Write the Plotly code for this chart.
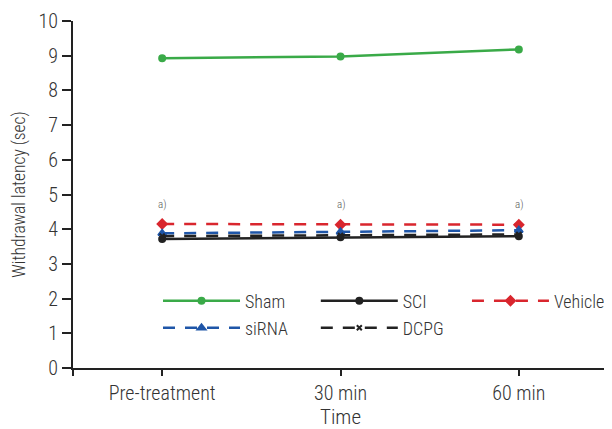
import plotly.graph_objects as go

categories = ["Pre-treatment", "30 min", "60 min"]
x_pos = [0, 1, 2]
sham = [8.93, 8.98, 9.18]
sci = [3.72, 3.77, 3.80]
vehicle = [4.15, 4.13, 4.13]
sirna = [3.88, 3.92, 3.97]
dcpg = [3.80, 3.82, 3.85]
annot_y = [4.72, 4.72, 4.72]
y_ticks = list(range(0, 11))

FONT = "Liberation Sans Narrow, Roboto Condensed, Arial Narrow, sans-serif"
TXT = "#333333"
W = 300

fig = go.Figure()

series = [
    ("Sham", sham, "#3aaa48", "solid", "circle", 6, "legend"),
    ("SCI", sci, "#222222", "solid", "circle", 6, "legend2"),
    ("Vehicle", vehicle, "#d9262e", "12px,10px", "diamond", 7, "legend3"),
    ("siRNA", sirna, "#1f56a8", "12px,10px", "triangle-up", 7, "legend4"),
    ("DCPG", dcpg, "#222222", "12px,10px", "x-thin-open", 5, "legend5"),
]
for name, vals, col, dash, sym, size, leg in series:
    fig.add_trace(go.Scatter(
        x=x_pos, y=vals, name=name, mode="lines+markers",
        line=dict(color=col, width=2.5, dash=dash),
        marker=dict(symbol=sym, size=size, color=col,
                    line=dict(color=col, width=2)),
        legend=leg,
    ))

for xi, yi in zip(x_pos, annot_y):
    fig.add_annotation(x=xi, y=yi, text="a)", showarrow=False,
                       font=dict(family=FONT, size=11, color="#555555", weight=W))

def leg(x, y):
    return dict(orientation="h", x=x, y=y, xanchor="left", yanchor="middle",
                itemwidth=77, bgcolor="rgba(0,0,0,0)",
                font=dict(size=18, color=TXT, weight=W))

fig.update_layout(
    width=604, height=421,
    margin=dict(l=65, r=3, t=13, b=61),
    paper_bgcolor="white", plot_bgcolor="white",
    font=dict(family=FONT, size=18, color=TXT, weight=W),
    legend=leg(0.1586, 0.193),
    legend2=leg(0.453, 0.193),
    legend3=leg(0.735, 0.193),
    legend4=leg(0.1586, 0.115),
    legend5=leg(0.453, 0.115),
    showlegend=True,
)

fig.update_xaxes(
    range=[-0.5, 2.5], tickvals=[-0.5, 0, 1, 2, 2.5],
    ticktext=["", categories[0], categories[1], categories[2], ""],
    showline=True, linecolor="#222222", linewidth=2,
    ticks="outside", ticklen=6, tickwidth=2, tickcolor="#222222",
    showgrid=False, zeroline=False, automargin=False,
    title=dict(text="Time", font=dict(size=21, color=TXT, weight=W), standoff=19),
    tickfont=dict(size=20, color=TXT, weight=W),
)
fig.update_yaxes(
    range=[0, 10], tickvals=y_ticks,
    showline=True, linecolor="#222222", linewidth=2,
    ticks="outside", ticklen=9, tickwidth=2, tickcolor="#222222",
    showgrid=False, zeroline=False, automargin=False,
    title=dict(text="Withdrawal latency (sec)", font=dict(size=17.5, color=TXT, weight=W), standoff=8),
    tickfont=dict(size=20, color=TXT, weight=W),
)

fig.write_html("out.html")
